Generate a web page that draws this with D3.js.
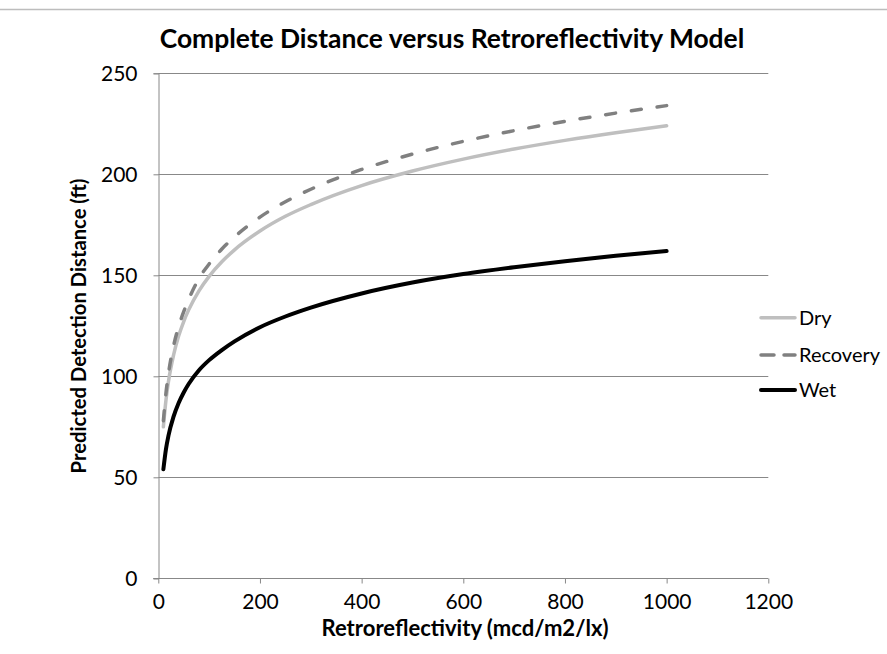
<!DOCTYPE html>
<html>
<head>
<meta charset="utf-8">
<script src="https://cdn.jsdelivr.net/npm/d3@7"></script>
<style>
  html, body { margin: 0; padding: 0; background: #fff; }
  svg { display: block; }
  text { font-family: Lato, "Open Sans", sans-serif; fill: #000; }
</style>
</head>
<body>
<svg id="chart" width="887" height="654"></svg>
<script>
// ---- data ----
const retro = [10, 15, 20, 30, 40, 50, 60, 80, 100, 125, 150, 200, 250, 300, 400, 500, 600, 700, 800, 900, 1000];
const dry = [75, 88, 97.4, 110.5, 119.9, 127.1, 133, 142.3, 149.5, 156.7, 162.6, 171.9, 179.2, 185, 194.4, 201.6, 207.5, 212.5, 216.8, 220.6, 224];
const recovery = [78, 91.5, 101.3, 115, 124.6, 132, 138.2, 148.4, 155.6, 163, 169, 178.8, 186.4, 192.6, 202.4, 210, 216.3, 221.6, 226.2, 230.3, 234];
const wet = [54, 63.8, 70.6, 80, 86.8, 92, 96.3, 103, 108, 113, 117.3, 124.3, 129.6, 134, 141, 146.4, 150.6, 154, 157, 159.7, 162];
const xTicks = [0, 200, 400, 600, 800, 1000, 1200];
const yTicks = [0, 50, 100, 150, 200, 250];
const seriesNames = ["Dry", "Recovery", "Wet"];
const titleText = "Complete Distance versus Retroreflectivity Model";
const xTitle = "Retroreflectivity (mcd/m2/lx)";
const yTitle = "Predicted Detection Distance (ft)";

const series = [
  { name: seriesNames[0], values: dry, color: "#bfbfbf", width: 3.5, dash: null },
  { name: seriesNames[1], values: recovery, color: "#808080", width: 3.5, dash: "10,16" },
  { name: seriesNames[2], values: wet, color: "#000000", width: 4, dash: null }
];

const svg = d3.select("#chart");
const pLeft = 158.3, pRight = 768.3, pTop = 73.3, pBottom = 578.3;

const x = d3.scaleLinear().domain([0, 1200]).range([pLeft, pRight]);
const y = d3.scaleLinear().domain([0, 250]).range([pBottom, pTop]);

// border line at top
svg.append("line").attr("x1", 0).attr("x2", 887).attr("y1", 9.5).attr("y2", 9.5)
  .attr("stroke", "#bdbdbd").attr("stroke-width", 1.5);

// gridlines
svg.append("g").selectAll("line").data(yTicks.filter(d => d > 0)).join("line")
  .attr("x1", pLeft).attr("x2", pRight)
  .attr("y1", d => Math.round(y(d)) + 0.5).attr("y2", d => Math.round(y(d)) + 0.5)
  .attr("stroke", "#888").attr("stroke-width", 1);

// axes
const gx = svg.append("g").attr("transform", `translate(0,${Math.round(pBottom) + 0.5})`)
  .call(d3.axisBottom(x).tickValues(xTicks).tickSize(5).tickFormat(d3.format("d")));
const gy = svg.append("g").attr("transform", `translate(${Math.round(pLeft) + 0.5},0)`)
  .call(d3.axisLeft(y).tickValues(yTicks).tickSize(5).tickFormat(d3.format("d")));
[gx, gy].forEach(g => {
  g.select(".domain").attr("stroke", "#888");
  g.selectAll(".tick line").attr("stroke", "#888");
  g.selectAll("text").style("font-family", "Lato, sans-serif").style("font-size", "21px").attr("fill", "#000");
});
gx.select(".domain").attr("d", `M${pLeft - 5},0H${pRight}`);
gx.selectAll(".tick text").attr("y", 16).attr("dy", "0.71em");
gy.selectAll(".tick text").attr("x", -21);

// lines
const line = d3.line().x((d, i) => x(retro[i])).y(d => y(d)).curve(d3.curveMonotoneX);
series.forEach(s => {
  svg.append("path").datum(s.values)
    .attr("d", line)
    .attr("fill", "none")
    .attr("stroke", s.color)
    .attr("stroke-width", s.width)
    .attr("stroke-linecap", "round")
    .attr("stroke-linejoin", "round")
    .attr("stroke-dasharray", s.dash);
});

// helper to fit text width
function fit(sel, w) {
  const cur = parseFloat(sel.style("font-size"));
  const len = sel.node().getComputedTextLength();
  sel.style("font-size", (cur * w / len) + "px");
}

// title
const t = svg.append("text").attr("x", 452).attr("y", 48).attr("text-anchor", "middle")
  .style("font-weight", "bold").style("font-size", "22px").text(titleText);
fit(t, 585);

// x title
const xt = svg.append("text").attr("x", 465).attr("y", 636).attr("text-anchor", "middle")
  .style("font-weight", "bold").style("font-size", "18px").text(xTitle);
fit(xt, 287);

// y title
const yt = svg.append("text").attr("transform", "translate(86,326) rotate(-90)").attr("text-anchor", "middle")
  .style("font-weight", "bold").style("font-size", "18px").text(yTitle);
fit(yt, 295);

// legend
const legY = [317.7, 355, 390];
const leg = svg.append("g");
series.forEach((s, i) => {
  leg.append("line").attr("x1", 761).attr("x2", 795).attr("y1", legY[i]).attr("y2", legY[i])
    .attr("stroke", s.color).attr("stroke-width", s.width)
    .attr("stroke-linecap", "round")
    .attr("stroke-dasharray", s.dash ? "13,10" : null);
  leg.append("text").attr("x", 799).attr("y", legY[i]).attr("dy", "0.36em")
    .style("font-size", "20px").text(s.name);
});
</script>
</body>
</html>
